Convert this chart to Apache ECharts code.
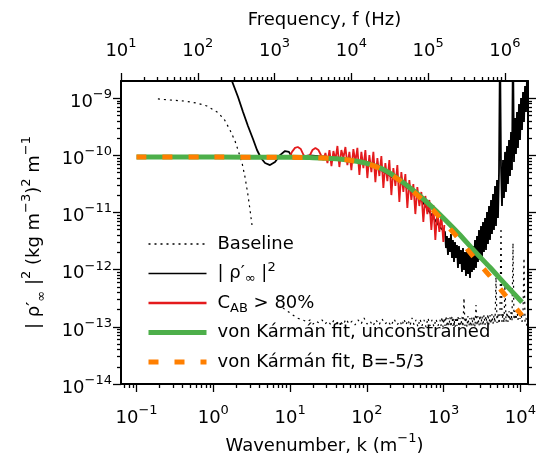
<!DOCTYPE html>
<html><head><meta charset="utf-8">
<script src="https://cdn.jsdelivr.net/npm/echarts@6.0.0/dist/echarts.min.js"></script>
<style>html,body{margin:0;padding:0;background:#fff}#c{width:540px;height:463px}</style>
</head><body><div id="c"></div>
<script>
// ---------- axis ranges and tick labels ----------
const kRange = [0.0628, 12566];          // wavenumber k (1/m)  (f = 10 Hz .. 2 MHz)
const fRange = [10, 2e6];                // frequency f (Hz)
const sRange = [1e-14, 2e-9];            // spectral density
const kTickExp = [-1, 0, 1, 2, 3, 4];
const fTickExp = [1, 2, 3, 4, 5, 6];
const sTickExp = [-14, -13, -12, -11, -10, -9];

// ---------- Baseline (dotted) ----------
const baselineK = [0.19,0.273,0.428,0.614,0.828,1.12,1.38,1.65,1.92,2.10,2.37,2.59,2.83,3.01,3.19,
  5.0,
  8.09,9.98,12.3,14.7,
  16.6,18.2,19.9,21.8,23.8,26.1,28.5,31.2,34.2,37.4,40.9,44.8,49.0,53.6,58.7,64.2,70.2,76.8,84.1,92.0,
  100.6,110.1,120.5,131.9,144.3,157.9,172.7,189.0,206.8,226.3,247.6,270.9,
  287.1,304.9,323.7,343.7,365.0,387.5,411.5,436.9,463.9,492.6,523.0,555.3,589.7,626.1,664.8,705.9,749.5,795.9,845.0,
  897,924,953,982,1012,
  1042,1074,1106,1140,1175,1211,1247,1285,1324,1365,1407,1449,1493,1539,1586,1634,1683,1735,1787,1842,
  1899,1956,2015,2077,2140,2207,2273,2342,2413,2487,2564,2641,2721,2804,2889,2979,3069,3162,3258,3357,
  3461,3565,3673,3785,3900,4021,4142,4268,4398,4531,4672,4813,4960,5110,5265,5428,5591,5761,5936,6116,
  6307,6496,6694,6897,7106,7327,7546,7775,8011,8254,8513,8765,9031,9306,9588,9891,10188,10497,10816,11144,
  11491,11836,12195,12566];
const baselineS = [9.7e-10,9.3e-10,8.9e-10,8.2e-10,7.3e-10,5.74e-10,4.33e-10,2.78e-10,1.78e-10,1.24e-10,7.35e-11,4.18e-11,2.02e-11,1.11e-11,6.05e-12,
  null,
  2.14e-13,1.75e-13,1.43e-13,1.32e-13,
  1.22e-13,1.32e-13,1.12e-13,1.26e-13,1.17e-13,1.32e-13,1.12e-13,1.26e-13,1.08e-13,1.32e-13,1.17e-13,1.26e-13,1.08e-13,1.37e-13,1.12e-13,1.26e-13,1.08e-13,1.32e-13,1.12e-13,1.43e-13,
  1.12e-13,1.26e-13,1.04e-13,1.32e-13,1.08e-13,1.37e-13,1.12e-13,1.26e-13,1.04e-13,1.37e-13,1.08e-13,1.26e-13,
  1.04e-13,1.37e-13,1.08e-13,1.32e-13,1.04e-13,1.43e-13,1.08e-13,1.32e-13,9.93e-14,1.37e-13,1.04e-13,1.32e-13,9.93e-14,1.43e-13,1.04e-13,1.32e-13,9.93e-14,1.37e-13,1.04e-13,
  1.32e-13,1.04e-13,1.49e-13,9.93e-14,1.43e-13,
  1.04e-13,1.55e-13,9.93e-14,1.43e-13,1.04e-13,1.49e-13,9.93e-14,1.55e-13,1.04e-13,1.43e-13,9.93e-14,1.49e-13,1.04e-13,1.55e-13,9.93e-14,1.43e-13,1.04e-13,1.49e-13,9.93e-14,3.20e-13,
  1.04e-13,1.49e-13,9.93e-14,1.55e-13,1.04e-13,1.43e-13,9.93e-14,1.49e-13,1.04e-13,1.55e-13,9.93e-14,2.41e-13,1.04e-13,1.55e-13,1.04e-13,1.61e-13,1.08e-13,1.55e-13,1.04e-13,1.61e-13,
  1.08e-13,1.55e-13,1.12e-13,1.68e-13,1.08e-13,1.61e-13,1.12e-13,1.68e-13,1.12e-13,1.61e-13,1.17e-13,7.45e-13,1.17e-13,1.75e-13,1.12e-13,1.68e-13,5.36e-12,1.22e-13,1.75e-13,1.17e-13,
  6.08e-13,1.22e-13,1.82e-13,1.22e-13,1.89e-13,1.26e-13,1.82e-13,1.26e-13,2.93e-12,1.32e-13,1.89e-13,1.32e-13,1.97e-13,1.32e-13,1.97e-13,1.37e-13,1.82e-13,1.22e-13,1.61e-13,1.60e-12,
  1.22e-13,1.43e-13,9.93e-14,1.08e-13];

// ---------- |rho'|^2 (solid black) ----------
const rhoK = [1.42,1.75,2.10,2.44,2.83,3.29,3.71,4.18,4.72,5.48,6.37,7.40,8.59,9.68,10.9,17.9,43.9,107.9,270.4,492.6,897,
  1042,1074,1106,1140,1175,1211,1247,1285,1324,1365,1407,1449,1493,1539,1586,1634,1683,1735,1787,1842,
  1899,1956,2015,2077,2140,2207,2273,2342,2413,2487,2564,2641,2721,2804,2889,2979,3069,3162,3258,3357,
  3461,3565,3673,3785,3900,4021,4142,4268,4398,4531,4672,4813,4960,5110,5265,5428,5591,5761,5936,6116,
  6307,6496,6694,6897,7106,7327,7546,7775,8011,8254,8513,8765,9031,9306,9588,9891,10188,10497,10816,11144,
  11491,11836,12195,12566];
const rhoS = [4.66e-9,2.0e-9,1.05e-9,5.74e-10,3.27e-10,1.93e-10,1.24e-10,9.0e-11,7.35e-11,6.77e-11,7.65e-11,1.01e-10,1.19e-10,1.15e-10,9.0e-11,1.0e-10,9.0e-11,7.5e-11,3.4e-11,1.8e-11,5.5e-12,
  4.56e-12,2.39e-12,3.88e-12,1.81e-12,3.58e-12,2.04e-12,4.21e-12,1.60e-12,3.30e-12,1.36e-12,3.05e-12,1.60e-12,2.70e-12,1.07e-12,2.59e-12,1.26e-12,2.21e-12,9.1e-13,2.39e-12,9.86e-13,
  2.04e-12,7.74e-13,2.21e-12,8.39e-13,1.88e-12,7.14e-13,2.39e-12,9.1e-13,2.59e-12,9.86e-13,3.30e-12,1.07e-12,3.88e-12,1.36e-12,4.95e-12,1.48e-12,5.81e-12,1.60e-12,6.83e-12,2.04e-12,
  8.02e-12,2.21e-12,1.02e-11,2.81e-12,1.30e-11,3.30e-12,1.66e-11,4.21e-12,2.11e-11,4.95e-12,2.91e-11,5.81e-12,3.71e-11,8.02e-12,5.12e-11,1.0e-8,6.52e-11,1.30e-11,8.3e-11,1.79e-11,
  1.15e-10,2.29e-11,1.46e-10,3.15e-11,1.86e-10,4.35e-11,2.56e-10,5.54e-11,1.0e-8,7.65e-11,4.51e-10,1.06e-10,5.74e-10,1.35e-10,7.93e-10,1.86e-10,1.01e-9,2.78e-10,1.28e-9,3.84e-10,
  1.63e-9,5.74e-10,2.25e-9,9.3e-10];

// ---------- C_AB > 80% (red) ----------
const cabK = [10.0,10.6,11.6,12.6,13.8,15.0,16.4,17.9,19.6,21.4,23.4,25.6,27.2,28.9,30.7,32.6,34.6,36.7,39.0,41.4,
  43.9,46.6,49.5,52.6,55.8,59.3,62.9,66.8,70.9,75.3,80.0,84.9,90.2,95.7,101.6,107.9,114.6,121.7,129.2,137.2,
  145.6,154.6,164.2,174.3,185.1,196.5,208.7,221.6,235.3,249.8,265.2,281.6,299.0,317.5,337.1,357.9,380.0,403.5,428.4,454.9,
  483.0,512.8,544.5,578.2,613.9,651.8,692.1,734.9,780.3,828.5,879.7,934.1,991.8,1022];
const cabS = [9.75e-11,1.15e-10,1.35e-10,1.40e-10,1.29e-10,1.01e-10,8.63e-11,9.75e-11,1.24e-10,1.35e-10,1.24e-10,9.75e-11,8.3e-11,1.10e-10,7.35e-11,1.24e-10,6.5e-11,1.19e-10,8.3e-11,1.46e-10,
  6.25e-11,1.24e-10,9.0e-11,1.40e-10,6.77e-11,1.15e-10,5.53e-11,1.29e-10,7.65e-11,1.35e-10,4.53e-11,1.15e-10,6.0e-11,1.24e-10,4.01e-11,1.01e-10,5.1e-11,1.15e-10,3.41e-11,9.0e-11,
  4.35e-11,9.75e-11,2.68e-11,7.35e-11,3.55e-11,8.3e-11,2.02e-11,6.0e-11,2.91e-11,6.77e-11,1.53e-11,5.1e-11,2.29e-11,4.71e-11,1.2e-11,3.7e-11,1.66e-11,3.15e-11,9.4e-12,2.79e-11,
  1.3e-11,2.29e-11,6.83e-12,1.95e-11,9.4e-12,1.66e-11,4.94e-12,1.35e-11,3.3e-12,1.11e-11,4.56e-12,9.05e-12,3.05e-12,6.05e-12];

// ---------- von Kármán fits ----------
const fitK = [0.1,1,10,20,40,63,100,160,250,400,630,1000,1600,2500,4000,6300,10500];
const fitUnconstrainedS = [9.33e-11,9.33e-11,9.23e-11,9.12e-11,8.71e-11,8.13e-11,7.24e-11,5.75e-11,3.98e-11,2.45e-11,1.45e-11,7.94e-12,4.17e-12,2.14e-12,1.10e-12,5.62e-13,2.69e-13];
const fitB53S = [9.33e-11,9.33e-11,9.23e-11,9.12e-11,8.71e-11,8.13e-11,7.24e-11,5.62e-11,3.89e-11,2.34e-11,1.35e-11,6.92e-12,3.39e-12,1.62e-12,7.76e-13,3.63e-13,1.58e-13];

// ---------- build ----------
const FONT = 'DejaVu Sans';
const L10 = Math.log10;
function toPairs(ks, ss) {
  return ks.map((k, i) => (ss[i] === null ? [L10(k), '-'] : [L10(k), L10(ss[i])]));
}
function minorTicks(lo, hi) {
  const out = [];
  for (let e = Math.floor(lo) - 1; e <= Math.ceil(hi); e++) {
    for (let m = 2; m <= 9; m++) {
      const v = e + L10(m);
      if (v > lo && v < hi) out.push(v);
    }
  }
  return out;
}
const rich = {
  b: { fontFamily: FONT, fontSize: 18, lineHeight: 28, color: '#000' },
  sup: { fontFamily: FONT, fontSize: 13, lineHeight: 14, verticalAlign: 'top', color: '#000' },
  sub: { fontFamily: FONT, fontSize: 13, lineHeight: 14, verticalAlign: 'bottom', color: '#000' }
};
const legRich = {
  b: { fontFamily: FONT, fontSize: 18, lineHeight: 24, color: '#000' },
  sup: { fontFamily: FONT, fontSize: 13, lineHeight: 14, verticalAlign: 'top', color: '#000' },
  sub: { fontFamily: FONT, fontSize: 13, lineHeight: 13, verticalAlign: 'bottom', color: '#000' }
};
const expText = e => String(e).replace('-', '\u2212');
const pow = v => '{b|10}{sup|' + expText(Math.round(v)) + '}';

const kMin = L10(kRange[0]), kMax = L10(kRange[1]);
const fMin = L10(fRange[0]), fMax = L10(fRange[1]);
const sMin = L10(sRange[0]), sMax = L10(sRange[1]);

const lineW = 2, tickW = 1.3;
function majorAxis(pos, min, max, ticks, extra) {
  return Object.assign({
    type: 'value', position: pos, min: min, max: max,
    axisLine: { show: true, onZero: false, lineStyle: { color: '#000', width: lineW } },
    axisTick: { show: true, customValues: ticks, length: 8, lineStyle: { color: '#000', width: tickW } },
    axisLabel: { show: true, customValues: ticks, formatter: pow, rich: rich },
    splitLine: { show: false }
  }, extra || {});
}
function minorAxis(pos, min, max) {
  return {
    type: 'value', position: pos, min: min, max: max,
    axisLine: { show: false, onZero: false },
    axisTick: { show: true, customValues: minorTicks(min, max), length: 4, lineStyle: { color: '#000', width: tickW } },
    axisLabel: { show: false },
    splitLine: { show: false }
  };
}

const legendNames = {
  'Baseline': 'Baseline',
  'rho': '{b|| ρ′}{sub|∞}{b| |}{sup|2}',
  'cab': '{b|C}{sub|AB}{b| > 80%}',
  'fitU': 'von Kármán fit, unconstrained',
  'fitB': 'von Kármán fit, B=-5/3'
};
const hidden = { opacity: 0 };

const option = {
  animation: false,
  backgroundColor: '#fff',
  grid: { left: 121, right: 12, top: 81, bottom: 79, containLabel: false },
  xAxis: [
    majorAxis('bottom', kMin, kMax, kTickExp, {
      axisLabel: { show: true, customValues: kTickExp, formatter: pow, rich: rich, margin: 20 },
      name: '{b|Wavenumber, k (m}{sup|\u22121}{b|)}', nameLocation: 'middle', nameGap: 44,
      nameTextStyle: { rich: rich, fontFamily: FONT, fontSize: 18, color: '#000' }
    }),
    minorAxis('bottom', kMin, kMax),
    majorAxis('top', fMin, fMax, fTickExp, {
      axisLabel: { show: true, customValues: fTickExp, formatter: pow, rich: rich, margin: 16 },
      name: 'Frequency, f (Hz)', nameLocation: 'middle', nameGap: 41,
      nameTextStyle: { fontFamily: FONT, fontSize: 18, lineHeight: 24, color: '#000' }
    }),
    minorAxis('top', fMin, fMax)
  ],
  yAxis: [
    majorAxis('left', sMin, sMax, sTickExp, {
      axisLabel: { show: true, customValues: sTickExp, formatter: pow, rich: rich, margin: 9, padding: [8, 0, 0, 0] },
      name: '{b|| ρ′}{sub|∞}{b| |}{sup|2}{b| (kg m}{sup|\u22123}{b|)}{sup|2}{b| m}{sup|\u22121}',
      nameLocation: 'middle', nameRotate: 90, nameGap: 73,
      nameTextStyle: { rich: rich, fontFamily: FONT, fontSize: 18, color: '#000' }
    }),
    minorAxis('left', sMin, sMax),
    majorAxis('right', sMin, sMax, sTickExp, { axisLabel: { show: false } }),
    minorAxis('right', sMin, sMax)
  ],
  legend: {
    orient: 'vertical', left: 146, top: 232, padding: 0,
    itemWidth: 58, itemHeight: 14, itemGap: 5.5,
    selectedMode: false,
    itemStyle: hidden,
    formatter: n => legendNames[n],
    textStyle: { fontFamily: FONT, fontSize: 18, lineHeight: 24, color: '#000', rich: legRich, padding: [0, 0, 0, 6] },
    data: [
      { name: 'Baseline', itemStyle: hidden, lineStyle: { width: 1.3, type: [2, 4], color: '#000' } },
      { name: 'rho', itemStyle: hidden, lineStyle: { width: 1.3, type: 'solid', color: '#000' } },
      { name: 'cab', itemStyle: hidden, lineStyle: { width: 2.5, type: 'solid', color: '#e41a1c' } },
      { name: 'fitU', itemStyle: hidden, lineStyle: { width: 5, type: 'solid', color: '#4daf4a' } },
      { name: 'fitB', itemStyle: hidden, lineStyle: { width: 5, type: [10, 16], color: '#ff7f00' } }
    ]
  },
  series: [
    { name: 'Baseline', type: 'line', data: toPairs(baselineK, baselineS), xAxisIndex: 0, yAxisIndex: 0,
      symbol: 'none', showSymbol: false, connectNulls: false, silent: true,
      lineStyle: { color: '#000', width: 1.2, type: [2, 4] }, itemStyle: { color: '#000' } },
    { name: 'rho', type: 'line', data: toPairs(rhoK, rhoS), xAxisIndex: 0, yAxisIndex: 0,
      symbol: 'none', showSymbol: false, silent: true, smooth: false,
      lineStyle: { color: '#000', width: 1.8 }, itemStyle: { color: '#000' } },
    { name: 'cab', type: 'line', data: toPairs(cabK, cabS), xAxisIndex: 0, yAxisIndex: 0,
      symbol: 'none', showSymbol: false, silent: true,
      lineStyle: { color: '#e41a1c', width: 1.8 }, itemStyle: { color: '#e41a1c' } },
    { name: 'fitU', type: 'line', data: toPairs(fitK, fitUnconstrainedS), xAxisIndex: 0, yAxisIndex: 0,
      symbol: 'none', showSymbol: false, silent: true, smooth: 0.3,
      lineStyle: { color: '#4daf4a', width: 5 }, itemStyle: { color: '#4daf4a' } },
    { name: 'fitB', type: 'line', data: toPairs(fitK, fitB53S), xAxisIndex: 0, yAxisIndex: 0,
      symbol: 'none', showSymbol: false, silent: true, smooth: 0.3,
      lineStyle: { color: '#ff7f00', width: 5, type: [10, 16], cap: 'butt' }, itemStyle: { color: '#ff7f00' } }
  ]
};
const chart = echarts.init(document.getElementById('c'), null, { renderer: 'canvas' });
chart.setOption(option);
</script>
</body></html>
